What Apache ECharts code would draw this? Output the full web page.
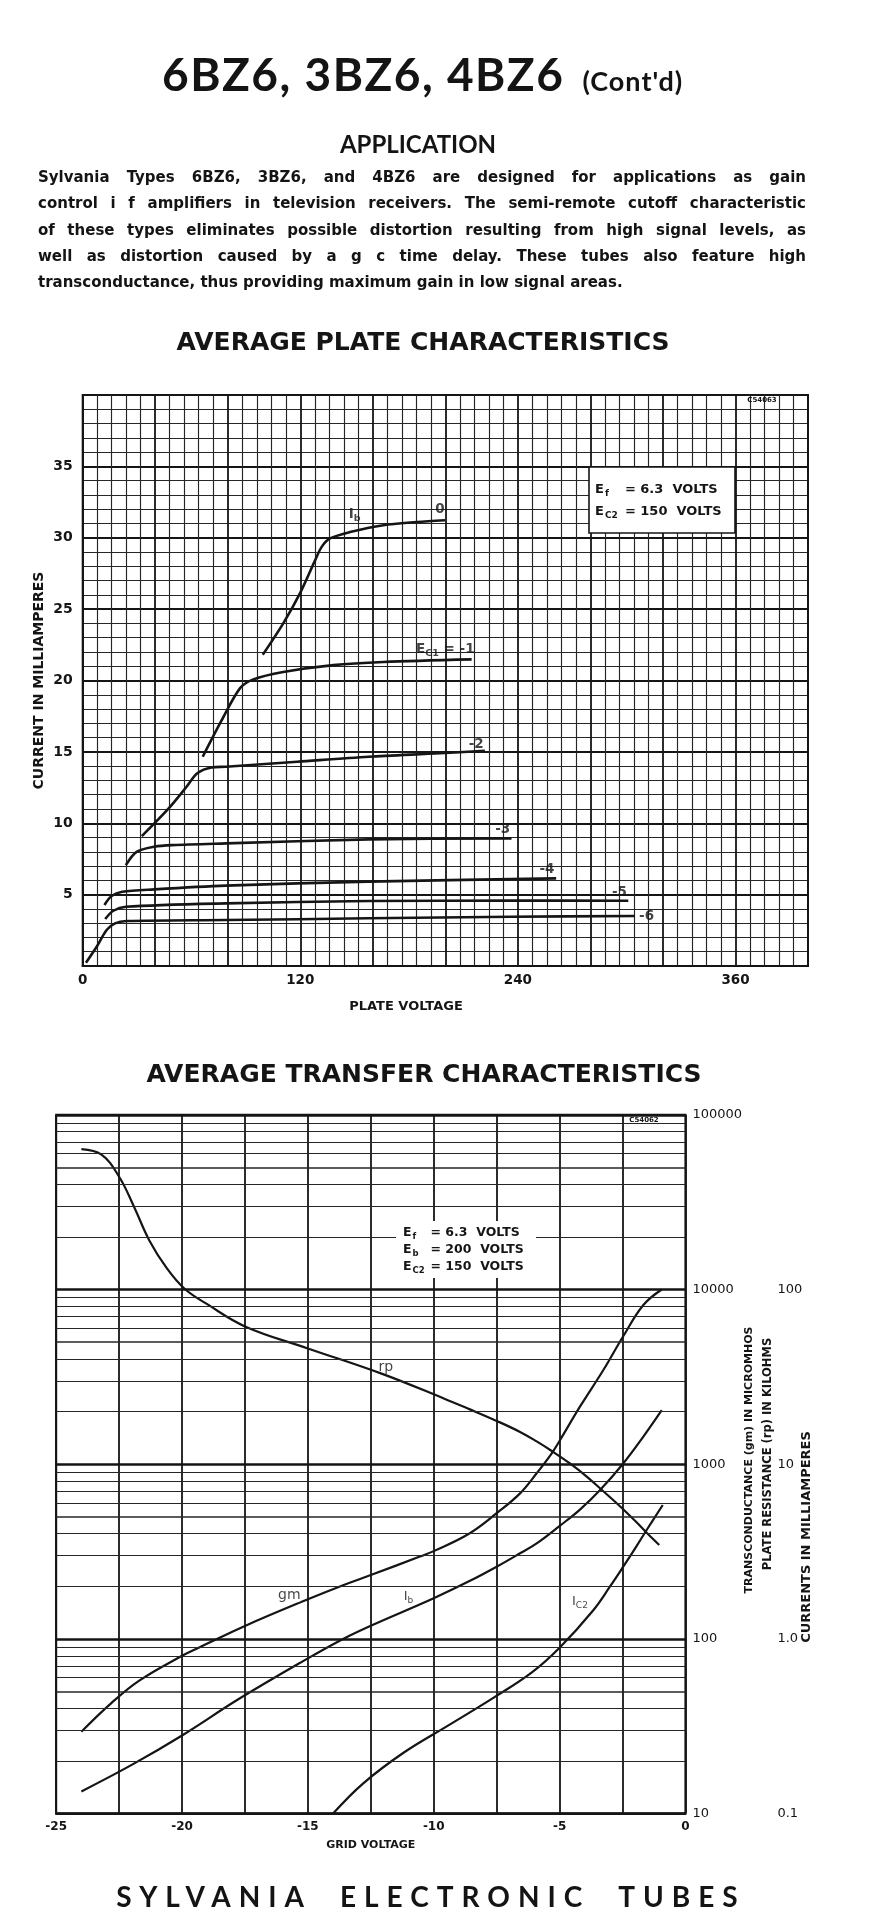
<!DOCTYPE html>
<html>
<head>
<meta charset="utf-8">
<title>6BZ6, 3BZ6, 4BZ6 (Cont'd)</title>
<script src="https://cdn.jsdelivr.net/npm/echarts@6/dist/echarts.min.js"></script>
<style>
  html, body { margin:0; padding:0; background:#fff; }
  #page { position:relative; width:878px; height:1913px; overflow:hidden; background:#fff; }
  #chart { position:absolute; left:0; top:0; width:878px; height:1913px; }
  .txt { position:absolute; color:#141414; font-family:Lato, 'Noto Sans', sans-serif; font-weight:700; white-space:nowrap; pointer-events:none; }
  #hdr { left:162px; top:46px; font-size:46px; line-height:56px; letter-spacing:1.5px; }
  #hdr span { font-size:27px; letter-spacing:1px; margin-left:18px; }
  #app { left:0; width:836px; text-align:center; top:130px; font-size:24px; line-height:28px; }
  #para { left:38px; top:164px; width:768px; font-family:'DejaVu Sans', sans-serif; font-size:15px; line-height:26.3px; }
  #para .l { display:block; white-space:nowrap; text-align:justify; text-align-last:justify; }
  #para .l.last { text-align-last:left; }
  #foot { left:0; width:862px; text-align:center; top:1879px; font-size:28px; line-height:34px; letter-spacing:8px; word-spacing:14px; }
</style>
</head>
<body>
<div id="page">
  <div id="chart"></div>
  <div class="txt" id="hdr">6BZ6, 3BZ6, 4BZ6<span>(Cont'd)</span></div>
  <div class="txt" id="app">APPLICATION</div>
  <div class="txt" id="para">
    <span class="l">Sylvania Types 6BZ6, 3BZ6, and 4BZ6 are designed for applications as gain</span>
    <span class="l">control i f amplifiers in television receivers. The semi-remote cutoff characteristic</span>
    <span class="l">of these types eliminates possible distortion resulting from high signal levels, as</span>
    <span class="l">well as distortion caused by a g c time delay. These tubes also feature high</span>
    <span class="l last">transconductance, thus providing maximum gain in low signal areas.</span>
  </div>
  <div class="txt" id="foot">SYLVANIA ELECTRONIC TUBES</div>
</div>
<script>
// ---------------- DATA: Average plate characteristics (plate volts, plate current mA) ----------------
const plateXTicks = [0, 120, 240, 360];
const plateYTicks = [5, 10, 15, 20, 25, 30, 35];

const plateEc1_0  = [[99.3,21.8],[110.6,24.0],[119.8,26.1],[128.1,28.4],[131.8,29.36],[136.4,29.95],[147.4,30.4],[165.8,30.88],[184.2,31.1],[199.8,31.23]];
const plateEc1_m1 = [[66.2,14.66],[76.6,17.2],[86.7,19.45],[94.1,20.08],[110.6,20.6],[138.2,21.08],[165.8,21.3],[214.5,21.48]];
const plateEc1_m2 = [[32.6,9.1],[47.4,11.04],[57.3,12.56],[63.2,13.5],[71.1,13.91],[79,13.96],[118.3,14.31],[157.7,14.66],[197.1,14.9],[221.8,15.08]];
const plateEc1_m3 = [[23.8,7.07],[29.7,8.0],[39.5,8.36],[49.4,8.47],[79,8.59],[157.7,8.87],[236.5,8.94]];
const plateEc1_m4 = [[12,4.27],[15.9,4.9],[21.8,5.2],[39.5,5.37],[79,5.63],[157.7,5.91],[261.1,6.14]];
const plateEc1_m5 = [[12.4,3.29],[16.9,3.87],[23.8,4.15],[79,4.39],[157.7,4.55],[236.5,4.58],[300.9,4.57]];
const plateEc1_m6 = [[1.8,0.23],[7.7,1.35],[13.2,2.52],[17.8,2.99],[24.3,3.15],[79,3.22],[157.7,3.34],[236.5,3.45],[304.6,3.5]];

const plateCurveLabels = ['{m|I}{s|b}', '0', '{m|E}{s|C1}{m| = -1}', '-2', '-3', '-4', '-5', '-6'];

// ---------------- DATA: Average transfer characteristics (grid volts) ----------------
const gridXTicks = [-25, -20, -15, -10, -5, 0];
const gmTicks = [10, 100, 1000, 10000, 100000];
const secondaryTickValues = [0.1, 1, 10, 100];
const secondaryTickLabels = ['0.1', '1.0', '10', '100'];

// transconductance gm, micromhos
const gmCurve = [[-24.0,29.4],[-22.8,43],[-21.7,57.7],[-20.0,80],[-19.3,89.5],[-17.5,118.6],[-15.0,168.6],[-13.6,203],[-12.5,232],[-10.55,296],[-10.0,318],[-8.6,400],[-7.5,524],[-6.57,681],[-5.91,887],[-5.31,1154],[-4.98,1375],[-4.19,2134],[-3.26,3460],[-2.47,5400],[-1.67,8151],[-0.94,10000]];
// plate resistance rp, kilohms
const rpCurve = [[-24.0,636],[-23.2,591],[-22.5,442],[-21.9,296],[-21.3,191],[-20.6,132],[-19.9,101],[-19.0,82.4],[-17.5,61.5],[-15.0,46.0],[-12.1,33.1],[-9.6,23.8],[-8.56,20.6],[-7.5,17.7],[-6.57,15.3],[-5.91,13.5],[-5.31,11.9],[-4.59,10.1],[-3.92,8.5],[-3.26,7.0],[-2.6,5.75],[-1.94,4.65],[-1.54,4.05],[-1.04,3.45]];
// plate current Ib, mA
const ibCurve = [[-24.0,0.134],[-22.0,0.19],[-20.0,0.28],[-17.7,0.457],[-15.0,0.774],[-13.6,1.0],[-12.5,1.19],[-10.0,1.71],[-8.56,2.15],[-7.5,2.59],[-6.57,3.09],[-5.91,3.52],[-4.98,4.45],[-4.19,5.5],[-3.39,7.12],[-2.47,10.1],[-1.67,14.4],[-0.94,20.4]];
// screen current Ic2, mA
const ic2Curve = [[-14.0,0.100],[-12.8,0.149],[-11.2,0.223],[-9.4,0.321],[-7.6,0.463],[-6.1,0.643],[-5.0,0.89],[-3.66,1.46],[-3.0,1.99],[-2.47,2.59],[-1.94,3.4],[-1.54,4.2],[-0.9,5.84]];

// ---------------- LAYOUT (label anchors in data space, pixel layout) ----------------
const plateLabelAnchors = [[150,31.6],[197,31.95],[200,22.15],[217,15.5],[231.6,9.55],[256,6.75],[296,5.15],[311,3.45]];
const transferLabelAnchorsGm = [[-15.74,178]];
const transferLabelAnchorsMa = [[-11.9,36],[-11.0,1.75],[-4.19,1.63]];
const transferLabelsMa = ['rp', '{m|I}{s|b}', '{m|I}{s|C2}'];

const INK = '#151515';
const NUMFONT = 'DejaVu Sans';

function near(v, list) { return list.find(t => Math.abs(v - t) <= Math.abs(t) * 1e-6 + 1e-9); }

// log-scale minor grid line positions (2..9 x each decade)
const logMinor = [];
for (let d = 10; d < 100000; d *= 10) for (let k = 2; k <= 9; k++) logMinor.push(d * k);

const richSub = {
  m: { fontFamily: NUMFONT, fontWeight: 'bold', fontSize: 13.5, color: INK },
  s: { fontFamily: NUMFONT, fontWeight: 'bold', fontSize: 9.5, color: INK, padding: [8, 0, 0, 0] }
};

const chart = echarts.init(document.getElementById('chart'), null, { renderer: 'canvas' });

const plateSeries = [plateEc1_0, plateEc1_m1, plateEc1_m2, plateEc1_m3, plateEc1_m4, plateEc1_m5, plateEc1_m6].map(d => ({
  type: 'line', xAxisIndex: 0, yAxisIndex: 0, data: d, symbol: 'none',
  smooth: 0.3, silent: true, z: 3,
  lineStyle: { color: INK, width: 2.6 }
}));

function transferLine(d, yIdx, extra) {
  return Object.assign({
    type: 'line', xAxisIndex: 1, yAxisIndex: yIdx, data: d, symbol: 'none',
    smooth: 0.4, silent: true, z: 3,
    lineStyle: { color: INK, width: 2.2 }
  }, extra || {});
}

function boxLine(x, y, sub, rest, fs, subW) {
  return { type: 'text', z: 101, x: x, y: y,
    style: { text: '{e|E}{s|' + sub + '}{t|' + rest + '}', verticalAlign: 'middle',
      rich: { e: { fontFamily: NUMFONT, fontWeight: 'bold', fontSize: fs, fill: INK },
              s: { fontFamily: NUMFONT, fontWeight: 'bold', fontSize: fs - 4, fill: INK, width: subW, padding: [fs - 5, 0, 0, 1] },
              t: { fontFamily: NUMFONT, fontWeight: 'bold', fontSize: fs, fill: INK } } } };
}

const option = {
  animation: false,
  backgroundColor: '#fff',
  title: [
    { text: 'AVERAGE PLATE CHARACTERISTICS', left: 418, top: 326, textAlign: 'center',
      textStyle: { fontFamily: NUMFONT, fontWeight: 'bold', fontSize: 25, color: INK } },
    { text: 'AVERAGE TRANSFER CHARACTERISTICS', left: 419, top: 1058, textAlign: 'center',
      textStyle: { fontFamily: NUMFONT, fontWeight: 'bold', fontSize: 25, color: INK } }
  ],
  grid: [
    { left: 82.7, top: 395, width: 725.3, height: 571, show: true, borderColor: INK, borderWidth: 2, backgroundColor: 'transparent' },
    { left: 56.2, top: 1114.8, width: 629.2, height: 698.8, show: true, borderColor: INK, borderWidth: 2, backgroundColor: 'transparent' }
  ],
  xAxis: [
    { gridIndex: 0, type: 'value', min: 0, max: 400, interval: 40,
      axisLine: { show: true, onZero: false, lineStyle: { color: INK, width: 2 } },
      axisTick: { show: false },
      axisLabel: { formatter: v => (near(v, plateXTicks) !== undefined ? String(v) : ''), color: INK,
        fontFamily: NUMFONT, fontWeight: 'bold', fontSize: 13.5, margin: 7 },
      splitLine: { show: true, lineStyle: { color: INK, width: 1.8 } },
      minorTick: { show: false, splitNumber: 5 },
      minorSplitLine: { show: true, lineStyle: { color: '#262626', width: 1.15 } } },
    { gridIndex: 1, type: 'value', min: -25, max: 0, interval: 2.5,
      axisLine: { show: true, onZero: false, lineStyle: { color: INK, width: 2 } },
      axisTick: { show: false },
      axisLabel: { formatter: v => (near(v, gridXTicks) !== undefined ? String(v) : ''), color: INK,
        fontFamily: NUMFONT, fontWeight: 'bold', fontSize: 12, margin: 7 },
      splitLine: { show: true, lineStyle: { color: INK, width: 1.8 } },
      name: 'GRID VOLTAGE', nameLocation: 'middle', nameGap: 26,
      nameTextStyle: { fontFamily: NUMFONT, fontWeight: 'bold', fontSize: 11, color: INK } }
  ],
  yAxis: [
    { gridIndex: 0, type: 'value', min: 0, max: 40, interval: 5,
      axisLine: { show: true, onZero: false, lineStyle: { color: INK, width: 2 } },
      axisTick: { show: false },
      axisLabel: { formatter: v => (near(v, plateYTicks) !== undefined ? String(v) : ''), color: INK,
        fontFamily: NUMFONT, fontWeight: 'bold', fontSize: 14, margin: 10 },
      splitLine: { show: true, lineStyle: { color: INK, width: 1.8 } },
      minorTick: { show: false, splitNumber: 5 },
      minorSplitLine: { show: true, lineStyle: { color: '#262626', width: 1.15 } },
      name: 'CURRENT IN MILLIAMPERES', nameLocation: 'middle', nameGap: 36, nameRotate: 90, nameMoveOverlap: false,
      nameTextStyle: { fontFamily: NUMFONT, fontWeight: 'bold', fontSize: 14, color: INK } },
    { gridIndex: 1, type: 'log', logBase: 10, min: 10, max: 100000, splitNumber: 4, position: 'right',
      axisLine: { show: false }, axisTick: { show: false },
      axisLabel: { formatter: v => { const t = near(v, gmTicks); return t !== undefined ? String(t) : ''; },
        align: 'left', margin: 7, color: INK, fontFamily: NUMFONT, fontSize: 13 },
      splitLine: { show: true, lineStyle: { color: INK, width: 2.6 } } },
    { gridIndex: 1, type: 'log', logBase: 10, min: 0.1, max: 1000, splitNumber: 4, position: 'right',
      axisLine: { show: false }, axisTick: { show: false },
      axisLabel: { formatter: v => { const i = secondaryTickValues.findIndex(t => Math.abs(v - t) <= t * 1e-6); return i >= 0 ? secondaryTickLabels[i] : ''; },
        align: 'left', margin: 92, color: INK, fontFamily: NUMFONT, fontSize: 13 },
      splitLine: { show: false } }
  ],
  graphic: [
    // plate chart condition box
    { type: 'rect', z: 100, shape: { x: 589, y: 467, width: 146, height: 66 },
      style: { fill: '#fff', stroke: INK, lineWidth: 1.6 } },
    boxLine(595, 490, 'f', '= 6.3  VOLTS', 13, 20),
    boxLine(595, 512, 'C2', '= 150  VOLTS', 13, 20),
    { type: 'text', z: 101, x: 762, y: 400,
      style: { text: 'C54063', align: 'center', verticalAlign: 'middle', font: 'bold 7px "DejaVu Sans"', fill: INK } },
    // plate chart x-axis name
    { type: 'text', z: 101, x: 406, y: 1007,
      style: { text: 'PLATE VOLTAGE', align: 'center', verticalAlign: 'middle', font: 'bold 13px "DejaVu Sans"', fill: INK } },
    // transfer chart condition box
    { type: 'rect', z: 100, shape: { x: 396, y: 1221, width: 140, height: 57 }, style: { fill: '#fff' } },
    boxLine(403, 1233, 'f', '= 6.3  VOLTS', 12.5, 18),
    boxLine(403, 1250, 'b', '= 200  VOLTS', 12.5, 18),
    boxLine(403, 1267, 'C2', '= 150  VOLTS', 12.5, 18),
    { type: 'text', z: 101, x: 644, y: 1120,
      style: { text: 'C54062', align: 'center', verticalAlign: 'middle', font: 'bold 7px "DejaVu Sans"', fill: INK } },
    // transfer chart right-side axis titles
    { type: 'text', z: 101, x: 749, y: 1460, rotation: Math.PI / 2,
      style: { text: 'TRANSCONDUCTANCE (gm) IN MICROMHOS', align: 'center', verticalAlign: 'middle', font: 'bold 11px "DejaVu Sans"', fill: INK } },
    { type: 'text', z: 101, x: 768, y: 1454, rotation: Math.PI / 2,
      style: { text: 'PLATE RESISTANCE (rp) IN KILOHMS', align: 'center', verticalAlign: 'middle', font: 'bold 11.5px "DejaVu Sans"', fill: INK } },
    { type: 'text', z: 101, x: 807, y: 1537, rotation: Math.PI / 2,
      style: { text: 'CURRENTS IN MILLIAMPERES', align: 'center', verticalAlign: 'middle', font: 'bold 13px "DejaVu Sans"', fill: INK } }
  ],
  series: [
    ...plateSeries,
    { type: 'scatter', xAxisIndex: 0, yAxisIndex: 0, symbolSize: 0, silent: true, z: 5,
      data: plateLabelAnchors.map((p, i) => ({ value: p, name: plateCurveLabels[i] })),
      label: { show: true, position: 'inside', formatter: p => (p.name.indexOf('{') === 0 ? p.name : '{m|' + p.name + '}'), rich: richSub } },
    transferLine(gmCurve, 1, {
      markLine: { silent: true, symbol: ['none', 'none'], label: { show: false }, animation: false,
        data: logMinor.map(v => ({ yAxis: v, lineStyle: { color: '#262626', width: (String(v)[0] === '5' ? 1.6 : 1.1), type: 'solid' } })) } }),
    transferLine(rpCurve, 2),
    transferLine(ibCurve, 2),
    transferLine(ic2Curve, 2),
    { type: 'scatter', xAxisIndex: 1, yAxisIndex: 1, symbolSize: 0, silent: true, z: 5,
      data: transferLabelAnchorsGm.map(p => ({ value: p, name: 'gm' })),
      label: { show: true, position: 'inside', formatter: '{b}', fontFamily: NUMFONT, fontSize: 14, color: INK } },
    { type: 'scatter', xAxisIndex: 1, yAxisIndex: 2, symbolSize: 0, silent: true, z: 5,
      data: transferLabelAnchorsMa.map((p, i) => ({ value: p, name: transferLabelsMa[i] })),
      label: { show: true, position: 'inside', fontFamily: NUMFONT, fontSize: 14, color: INK,
        formatter: p => (p.name.indexOf('{') === 0 ? p.name : '{r|' + p.name + '}'),
        rich: { m: { fontFamily: NUMFONT, fontSize: 13, color: INK }, s: { fontFamily: NUMFONT, fontSize: 9, color: INK, padding: [8, 0, 0, 0] },
                r: { fontFamily: NUMFONT, fontSize: 14, color: INK } } } }
  ]
};

chart.setOption(option);
</script>
</body>
</html>
